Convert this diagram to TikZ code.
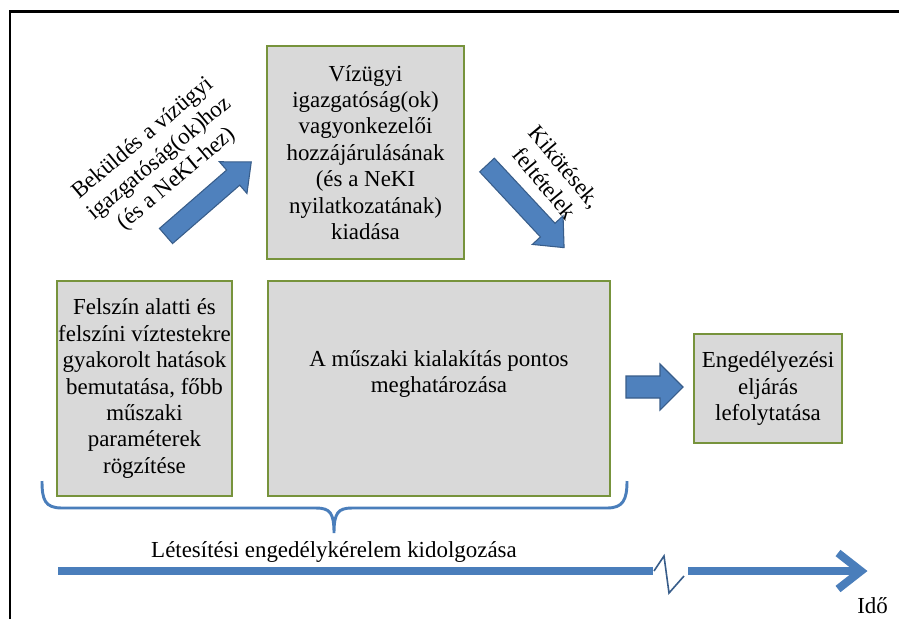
\documentclass[tikz,border=0pt]{standalone}
\usepackage{fontspec}
\setmainfont{Liberation Serif}
\newfontfamily\tnr{Liberation Serif}
\definecolor{boxfill}{HTML}{D9D9D9}
\definecolor{boxline}{HTML}{77933C}
\definecolor{arrfill}{HTML}{4F81BD}
\definecolor{arrline}{HTML}{385D8A}
\definecolor{tline}{HTML}{4A7EBB}
\begin{document}
\begin{tikzpicture}[x=0.75pt,y=-0.75pt,
  box/.style={draw=boxline, line width=1.6pt, fill=boxfill, inner sep=0pt},
  txt/.style={font=\tnr\fontsize{17.2}{19.8}\selectfont, align=center, inner sep=0pt},
  blockfill/.style={fill=arrfill, draw=arrline, line width=0.8pt, line join=miter},
  blockarrow/.pic={\path[blockfill] (0,-10) -- (89,-10) -- (89,-21) -- (113,0) -- (89,21) -- (89,10) -- (0,10) -- cycle;},
  tl/.style={draw=tline, line width=6pt},
]
\useasboundingbox (0,0) rectangle (899,619);
\fill[white] (0,0) rectangle (899,619);
% frame
\draw[line width=1.6pt] (10,619) -- (10,11.5) -- (899,11.5);

% boxes
\node[box, txt, minimum width=147.75pt, minimum height=159.75pt] (top) at (365.5,152.5)
  {Vízügyi\\igazgatóság(ok)\\vagyonkezelői\\hozzájárulásának\\(és a NeKI\\nyilatkozatának)\\kiadása};
\node[box, txt, minimum width=131.25pt, minimum height=161.25pt] (left) at (144.5,388.5)
  {Felszín alatti és\\felszíni víztestekre\\gyakorolt hatások\\bemutatása, főbb\\műszaki\\paraméterek\\rögzítése};
\node[box, minimum width=256.5pt, minimum height=161.25pt] (mid) at (439,388.5) {};
\node[txt] (midt) at (439,374) {A műszaki kialakítás pontos\\meghatározása};
\node[box, txt, minimum width=111pt, minimum height=81.75pt] (right) at (768,388.5)
  {Engedélyezési\\eljárás\\lefolytatása};

% block arrows
\pic[rotate=41] at (166,236) {blockarrow};
\pic[rotate=-47] at (487,165) {blockarrow};
\path[blockfill] (626,376) -- (660,376) -- (660,364) -- (683,387) -- (660,410) -- (660,398) -- (626,398) -- cycle;

% rotated labels
\node[txt, rotate=40] (send) at (160,159) {Beküldés a vízügyi\\igazgatóság(ok)hoz\\(és a NeKI-hez)};
\node[txt, rotate=-50] (cond) at (555,175) {Kikötések,\\feltételek};

% brace
\draw[tline, line width=2.2pt] (42,481) .. controls (42,500) and (45,508) .. (62,508) -- (316,508)
  .. controls (330,508) and (334,513) .. (334,533) .. controls (334,513) and (338,508) .. (352,508)
  -- (607,508) .. controls (623,508) and (627,500) .. (627,481);
\node[txt, anchor=base] (lab) at (334,557) {Létesítési engedélykérelem kidolgozása};

% timeline
\coordinate (t0) at (58,571);
\coordinate (t1) at (653,571);
\coordinate (t2) at (688,571);
\coordinate (t3) at (858,571);
\draw[tl] (t0) -- (t1);
\draw[tl] (t2) -- (t3);
\draw[tl, line join=miter] (838,553) -- (861,571) -- (838,589);
\draw[arrline, line width=1.2pt] (654,571) -- (664,556) -- (669,593) -- (684,576);
\node[txt, anchor=base west] (ido) at (857,613) {Idő};
\end{tikzpicture}
\end{document}
